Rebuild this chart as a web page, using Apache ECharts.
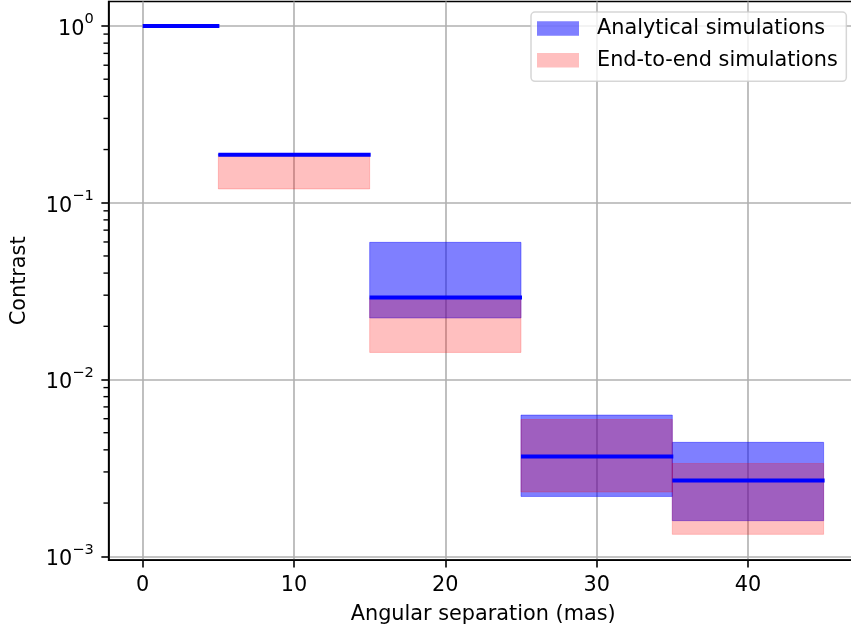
<!DOCTYPE html>
<html><head><meta charset="utf-8">
<script src="https://cdn.jsdelivr.net/npm/echarts@6/dist/echarts.min.js"></script>
<style>html,body{margin:0;padding:0;background:#fff}#c{width:851px;height:630px}</style>
</head><body><div id="c"></div>
<script>
// ---- data ----
const binStart = [0, 5, 15, 25, 35];
const binEnd = [5, 15, 25, 35, 45];
const medianContrast = [1.0, 0.187, 0.0291, 0.00367, 0.00268];
const analyticalLow = [null, 0.185, 0.0223, 0.00218, 0.00159];
const analyticalHigh = [null, 0.189, 0.0597, 0.00629, 0.00441];
const e2eLow = [null, 0.1197, 0.01423, 0.00231, 0.00133];
const e2eHigh = [null, 0.184, 0.0290, 0.00594, 0.00335];
const xTicks = [0, 10, 20, 30, 40];
const yMajorTicks = [0.001, 0.01, 0.1, 1];
const yMinorTicks = [0.002, 0.003, 0.004, 0.005, 0.006, 0.007, 0.008, 0.009,
  0.02, 0.03, 0.04, 0.05, 0.06, 0.07, 0.08, 0.09,
  0.2, 0.3, 0.4, 0.5, 0.6, 0.7, 0.8, 0.9];
const seriesNames = ['Analytical simulations', 'End-to-end simulations'];
const xLabel = 'Angular separation (mas)';
const yLabel = 'Contrast';

const FONT = 'DejaVu Sans';
const FS = 20.8;
const X_MIN = -2.25, X_MAX = 47.25;
const Y_MIN = 0.000950, Y_MAX = 1.376;

function bandData(lo, hi) {
  const out = [];
  for (let i = 0; i < binStart.length; i++) {
    if (lo[i] == null || hi[i] == null) continue;
    out.push([binStart[i], binEnd[i], lo[i], hi[i]]);
  }
  return out;
}
function bandRender(color) {
  return function (params, api) {
    const p0 = api.coord([api.value(0), api.value(3)]);
    const p1 = api.coord([api.value(1), api.value(2)]);
    return {
      type: 'rect',
      shape: { x: p0[0], y: p0[1], width: p1[0] - p0[0], height: p1[1] - p0[1] },
      style: { fill: color, stroke: color, lineWidth: 0.8 }
    };
  };
}
const lineData = binStart.map((s, i) => [s, binEnd[i], medianContrast[i]]);

const option = {
  backgroundColor: '#ffffff',
  animation: false,
  grid: { left: 108.66, top: 1.5, width: 749, height: 558.7, show: true,
    outerBoundsMode: 'none', containLabel: false,
    borderColor: '#000', borderWidth: 1.6, backgroundColor: 'transparent' },
  legend: {
    orient: 'vertical', left: 531, top: 12,
    data: seriesNames,
    icon: 'rect', itemWidth: 42, itemHeight: 14.6, itemGap: 10.7,
    padding: [6, 8.5, 10.6, 6],
    backgroundColor: 'rgba(255,255,255,0.8)',
    borderColor: 'rgba(204,204,204,0.8)', borderWidth: 1.5, borderRadius: 4,
    textStyle: { fontFamily: FONT, fontSize: FS, color: '#000', lineHeight: 20.8, padding: [0, 0, 0, 13] }
  },
  xAxis: {
    type: 'value', min: X_MIN, max: X_MAX,
    name: xLabel, nameLocation: 'middle', nameGap: 43.5,
    nameTextStyle: { fontFamily: FONT, fontSize: FS, color: '#000' },
    axisLine: { show: true, onZero: false, lineStyle: { color: '#000', width: 1.6 } },
    axisTick: { show: true, length: 7.3, lineStyle: { color: '#000', width: 1.6 }, customValues: xTicks },
    axisLabel: { show: true, margin: 14.6, fontFamily: FONT, fontSize: FS, color: '#000', customValues: xTicks },
    splitLine: { show: true, lineStyle: { color: '#b0b0b0', width: 1.6 } }
  },
  yAxis: {
    type: 'log', logBase: 10, min: Y_MIN, max: Y_MAX, position: 'left',
    name: yLabel, nameLocation: 'middle', nameGap: 79,
    nameTextStyle: { fontFamily: FONT, fontSize: FS, color: '#000' },
    axisLine: { show: true, onZero: false, lineStyle: { color: '#000', width: 1.6 } },
    axisTick: { show: true, length: 7.3, lineStyle: { color: '#000', width: 1.6 }, customValues: yMajorTicks },
    axisLabel: {
      show: true, margin: 15, customValues: yMajorTicks,
      formatter: function (v) {
        const e = Math.round(Math.log10(v));
        return '{b|10}{s|' + (e < 0 ? '\u2212' + (-e) : String(e)) + '}';
      },
      rich: {
        b: { fontFamily: FONT, fontSize: FS, color: '#000', lineHeight: 28, verticalAlign: 'bottom' },
        s: { fontFamily: FONT, fontSize: 14.6, color: '#000', lineHeight: 16, verticalAlign: 'top' }
      }
    },
    splitLine: { show: true, lineStyle: { color: '#b0b0b0', width: 1.6 } }
  },
  series: [
    {
      name: seriesNames[0], type: 'custom',
      itemStyle: { color: 'rgba(0,0,255,0.5)' },
      renderItem: bandRender('rgba(0,0,255,0.5)'),
      encode: { x: [0, 1], y: [2, 3] },
      data: bandData(analyticalLow, analyticalHigh)
    },
    {
      name: seriesNames[1], type: 'custom',
      itemStyle: { color: 'rgba(255,0,0,0.25)' },
      renderItem: bandRender('rgba(255,0,0,0.25)'),
      encode: { x: [0, 1], y: [2, 3] },
      data: bandData(e2eLow, e2eHigh)
    },
    {
      name: 'median', type: 'custom',
      renderItem: function (params, api) {
        const p0 = api.coord([api.value(0), api.value(2)]);
        const p1 = api.coord([api.value(1), api.value(2)]);
        return { type: 'line', shape: { x1: p0[0], y1: p0[1], x2: p1[0] + 1, y2: p1[1] },
          style: { stroke: '#0000ff', lineWidth: 4 } };
      },
      encode: { x: [0, 1], y: 2 },
      data: lineData
    },
    {
      name: 'minorTicks', type: 'custom', clip: false, z: 10,
      renderItem: function (params, api) {
        const p = api.coord([api.value(0), api.value(1)]);
        return { type: 'line', shape: { x1: p[0], y1: p[1], x2: p[0] - 5.2, y2: p[1] },
          style: { stroke: '#000', lineWidth: 1.4 } };
      },
      encode: { x: 0, y: 1 },
      data: yMinorTicks.map(v => [X_MIN, v])
    }
  ]
};
const chart = echarts.init(document.getElementById('c'), null, { renderer: 'canvas' });
chart.setOption(option);
</script>
</body></html>
